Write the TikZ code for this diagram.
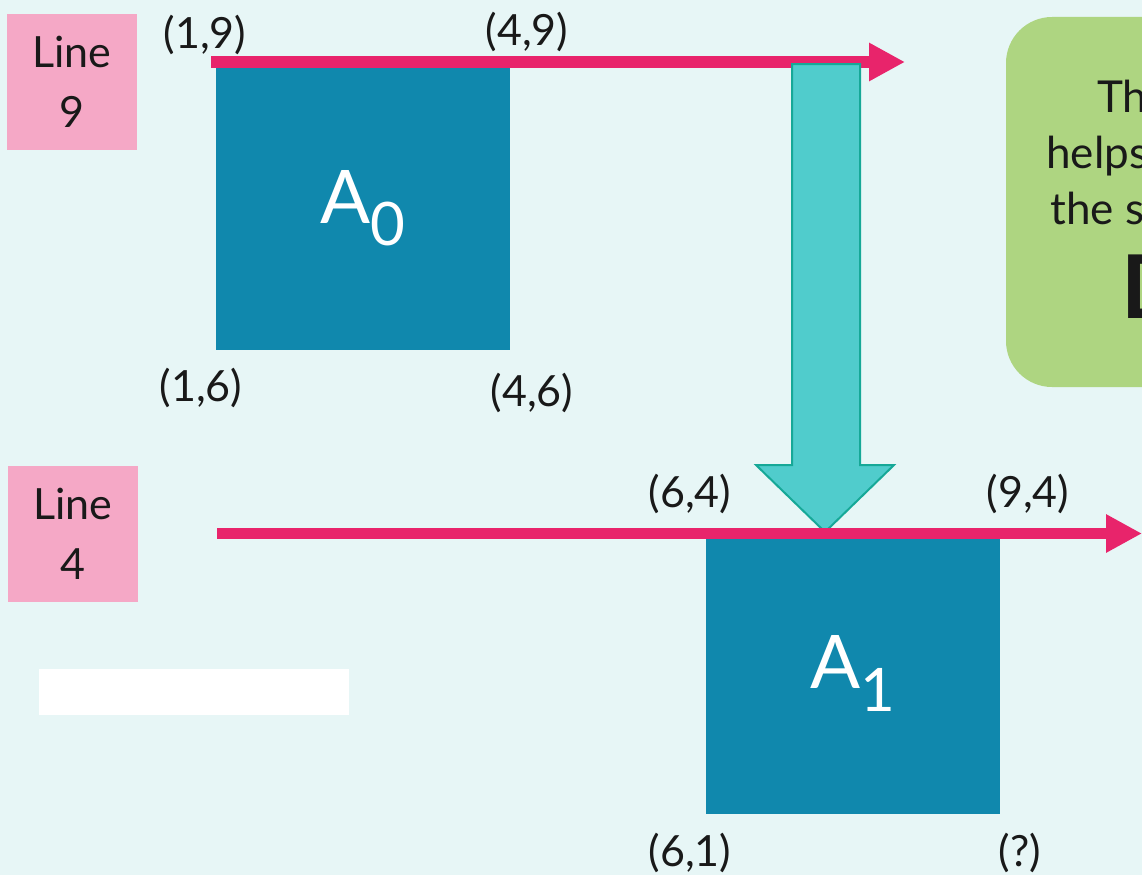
\documentclass[tikz,border=0pt]{standalone}
\usepackage{fontspec}
\setmainfont{Lato}
\usetikzlibrary{arrows.meta}
\definecolor{bgc}{RGB}{231,246,246}
\definecolor{pinkc}{RGB}{245,168,198}
\definecolor{magc}{RGB}{232,36,107}
\definecolor{bluec}{RGB}{16,136,173}
\definecolor{tealf}{RGB}{80,204,204}
\definecolor{teald}{RGB}{22,168,151}
\definecolor{greenc}{RGB}{174,213,129}
\tikzset{
  lbl/.style={fill=pinkc, minimum width=130pt, minimum height=136pt, inner sep=0pt, align=center, font=\fontsize{43}{60}\selectfont, text=black!90},
  coord/.style={inner sep=0pt, font=\fontsize{43}{50}\selectfont, text=black!90},
  sq/.style={fill=bluec, inner sep=0pt, text=white, font=\fontsize{74}{80}\selectfont},
  magline/.style={draw=magc, line width=11pt, -{Triangle[length=36pt,width=36pt]}},
  gtxt/.style={inner sep=0pt, anchor=base west, font=\fontsize{44}{50}\selectfont, text=black!90},
}
\begin{document}
\begin{tikzpicture}[x=1pt,y=-1pt]
\useasboundingbox (0,0) rectangle (1142,875);
\clip (0,0) rectangle (1142,875);
\fill[bgc] (0,0) rectangle (1142,875);
% white bar
\fill[white] (39,669) rectangle (349,715);
% green box
\fill[greenc, rounded corners=46pt] (1006,17) rectangle (1240,387);
\node[gtxt] (g1) at (1097,112) {Th};
\node[gtxt] (g2) at (1046,168) {helps};
\node[gtxt] (g3) at (1050,224) {the s};
\node[gtxt, font=\fontsize{88}{96}\selectfont\bfseries] (g4) at (1121,318) {D};
% labels
\node[lbl] (L9) at (72,82) {Line\\9};
\node[lbl] (L4) at (73,534) {Line\\4};
% squares
\node[sq, minimum width=294pt, minimum height=284pt] (A0) at (363,208) {A\raisebox{-0.3em}{\fontsize{60}{60}\selectfont 0}};
\node[sq, minimum width=294pt, minimum height=281pt] (A1) at (853,673.5) {A\raisebox{-0.3em}{\fontsize{60}{60}\selectfont 1}};
% magenta lines
\coordinate (s9) at (211,62);
\coordinate (e9) at (905,62);
\coordinate (s4) at (217,533.5);
\coordinate (e4) at (1142,533.5);
\draw[magline] (s9) -- (e9);
% teal block arrow
\coordinate (tip) at (825,532);
\filldraw[fill=tealf, draw=teald, line width=2pt, line join=miter]
  (792,64) -- (860,64) -- (860,465) -- (894,465) -- (tip) -- (756,465) -- (792,465) -- cycle;
\draw[magline] (s4) -- (e4);
% coordinates
\node[coord] (c19) at (205,35) {(1,9)};
\node[coord] (c49) at (527,32) {(4,9)};
\node[coord] (c16) at (201,388) {(1,6)};
\node[coord] (c46) at (532,393) {(4,6)};
\node[coord] (c64) at (690,494) {(6,4)};
\node[coord] (c94) at (1028,494) {(9,4)};
\node[coord] (c61) at (690,853) {(6,1)};
\node[coord] (cq) at (1020,853) {(?)};
\end{tikzpicture}
\end{document}
